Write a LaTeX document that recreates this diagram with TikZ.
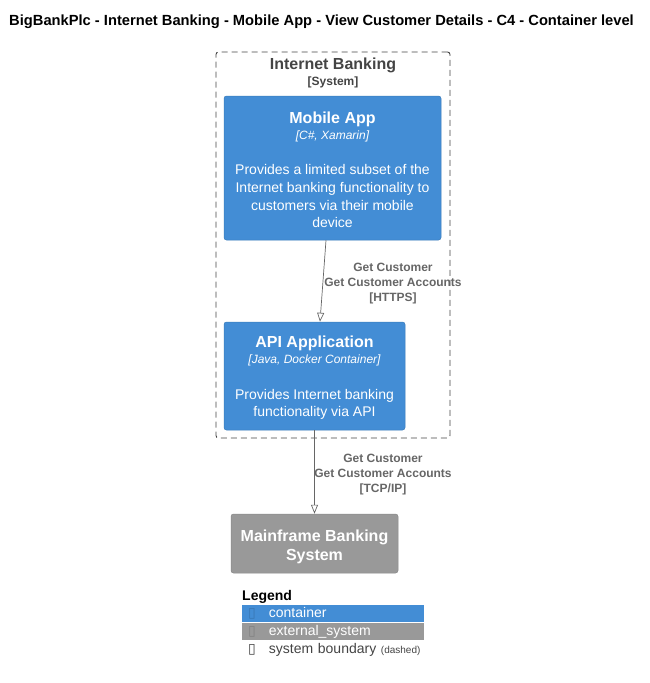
\documentclass[tikz,border=0pt]{standalone}
\usepackage{fontspec}
\setmainfont{Liberation Sans}
\newfontfamily\symfont{DejaVu Sans}
\usetikzlibrary{arrows.meta,positioning}
\definecolor{containerblue}{HTML}{438DD5}
\definecolor{extgray}{HTML}{999999}
\definecolor{boundgray}{HTML}{444444}
\definecolor{relgray}{HTML}{666666}
\tikzstyle{container}=[
        fill = containerblue,
        draw = containerblue!88!black,
        line width = 0.5pt,
        rounded corners = 2.5pt,
        text = white,
        align = center,
        font = \fontsize{14}{17.6}\selectfont
    ]
\tikzstyle{external}=[
        fill = extgray,
        draw = extgray!90!black,
        line width = 0.5pt,
        rounded corners = 2.5pt,
        text = white,
        align = center,
        font = \bfseries\fontsize{16}{19}\selectfont
    ]
\tikzstyle{boundary}=[
        draw = boundgray,
        line width = 0.9pt,
        dash pattern = on 6pt off 4pt,
        rounded corners = 2.5pt
    ]
\tikzstyle{rel}=[
        draw = relgray,
        line width = 0.7pt,
        -{Triangle[open, length = 9pt, width = 7pt]}
    ]
\tikzstyle{rel label}=[
        text = relgray,
        align = center,
        font = \bfseries\fontsize{12}{15}\selectfont
    ]
\tikzstyle{legend row}=[
        minimum width = 182pt,
        minimum height = 17.5pt,
        inner sep = 0pt,
        text width = 182pt,
        text height = 12pt,
        text depth = 3pt,
        font = \fontsize{14}{16}\selectfont
    ]

\begin{document}
\begin{tikzpicture}[x = 1pt, y = -1pt]
        \useasboundingbox (0,0) rectangle (650,683);

        \node[font = \bfseries\fontsize{14.7}{17}\selectfont] (title) at (321.5,22) {BigBankPlc - Internet Banking - Mobile App - View Customer Details - C4 - Container level};

        \node[boundary, minimum width = 234pt, minimum height = 386pt, inner sep = 0pt] (ib) at (333,245) {};
        \node[text = boundgray, font = \bfseries\fontsize{16}{19}\selectfont] (ibname) at (333,65) {Internet Banking};
        \node[text = boundgray, font = \bfseries\fontsize{12}{14}\selectfont] (ibtype) at (333,82) {[System]};

        \node[container, minimum width = 217pt, minimum height = 144pt] (mobile) at (332.5,168) {\rule{0pt}{15.6pt}{\bfseries\fontsize{16}{19}\selectfont Mobile App}\\[-2pt] {\itshape\fontsize{12}{14}\selectfont [C\#, Xamarin]}\\[18pt] Provides a limited subset of the\\ Internet banking functionality to\\ customers via their mobile\\ device};
        \node[container, minimum width = 181pt, minimum height = 108pt] (api) at (314.5,376) {\rule{0pt}{15.6pt}{\bfseries\fontsize{16}{19}\selectfont API Application}\\[-2pt] {\itshape\fontsize{12}{14}\selectfont [Java, Docker Container]}\\[18pt] Provides Internet banking\\ functionality via API};
        \node[external, minimum width = 167pt, minimum height = 59pt] (mainframe) at (314.5,543.5) {\rule{0pt}{17.6pt}Mainframe Banking\\ System};

        \draw[rel] ([xshift = -6.5pt]mobile.south) -- ([xshift = 5.5pt]api.north);
        \node[rel label] (rel1) at (393,284) {Get Customer\\ Get Customer Accounts\\ {[HTTPS]}};
        \draw[rel] (api.south) -- (mainframe.north);
        \node[rel label] (rel2) at (383,475) {Get Customer\\ Get Customer Accounts\\ {[TCP/IP]}};

        \node[anchor = west, inner sep = 0pt, font = \bfseries\fontsize{14}{17}\selectfont] (legend) at (242,597) {Legend};
        \node[legend row, fill = containerblue, text = white, anchor = north west] (lcontainer) at (242,604.5) {\hspace*{6pt}{\symfont\fontsize{14}{16}\selectfont\color{containerblue!85!black}▯}\hspace{13pt}container};
        \node[legend row, fill = extgray, text = white, below = 0pt of lcontainer] (lexternal) {\hspace*{6pt}{\symfont\fontsize{14}{16}\selectfont\color{extgray!85!black}▯}\hspace{13pt}external\_system};
        \node[legend row, text = boundgray, below = 0pt of lexternal] (lboundary) {\hspace*{6pt}{\symfont\fontsize{14}{16}\selectfont ▯}\hspace{13pt}system boundary {\fontsize{10}{11}\selectfont (dashed)}};

    \end{tikzpicture}
\end{document}
